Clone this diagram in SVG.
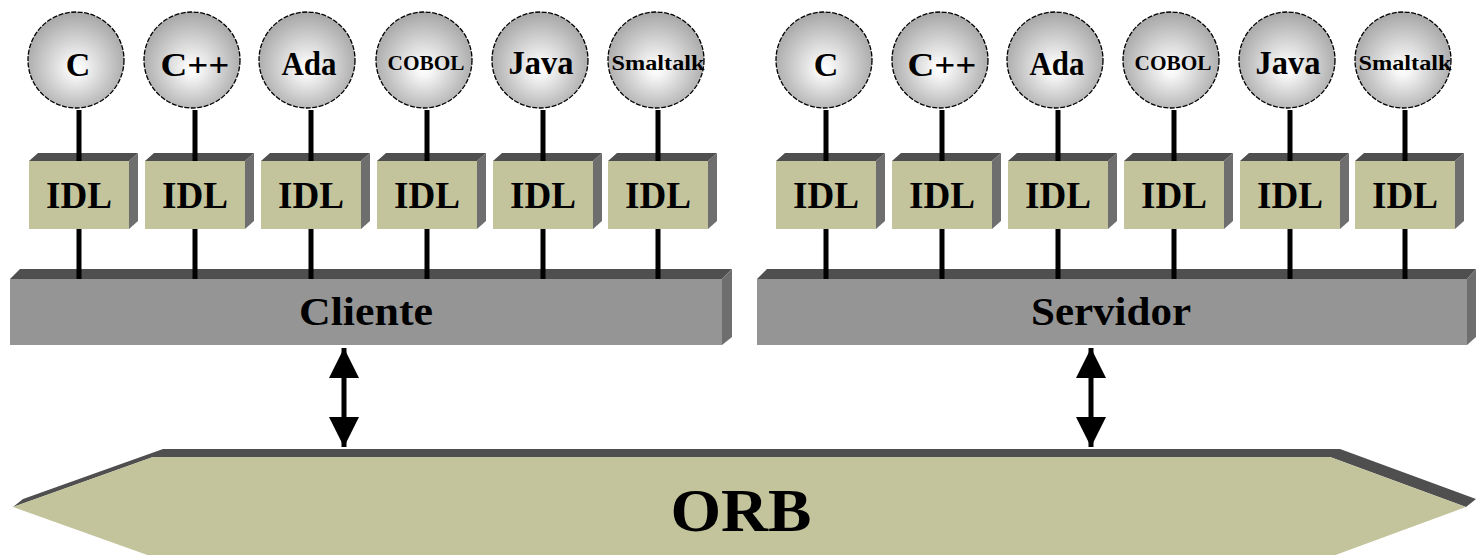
<svg xmlns="http://www.w3.org/2000/svg" width="1476" height="555" viewBox="0 0 1476 555">
  <defs>
    <radialGradient id="ball" cx="0.5" cy="0.55" r="0.55" fx="0.5" fy="0.6">
      <stop offset="0" stop-color="#ffffff"/>
      <stop offset="0.15" stop-color="#f6f6f6"/>
      <stop offset="1" stop-color="#a6a6a6"/>
    </radialGradient>
    <marker id="head" viewBox="0 0 30 30" refX="30" refY="15" markerWidth="30" markerHeight="30" markerUnits="userSpaceOnUse" orient="auto-start-reverse">
      <path d="M0,0 L30,15 L0,30 Z" fill="#000"/>
    </marker>
    <g id="idlBox">
      <polygon class="top" points="0,8 9,0 109,0 100,8"/>
      <polygon class="side" points="100,8 109,0 109,68 100,76"/>
      <rect class="face" x="0" y="8" width="100" height="68"/>
      <text class="idl" x="50" y="55" textLength="66" lengthAdjust="spacingAndGlyphs">IDL</text>
    </g>
  </defs>
  <style>
    .top { fill: #4f4f4f; }
    .side { fill: #6e6e6e; }
    .face { fill: #c3c39c; }
    .bar { fill: #959595; }
    .ball { fill: url(#ball); stroke: #000; stroke-width: 1.3; stroke-dasharray: 5 1.5; }
    text { font-family: "Liberation Serif", "Times New Roman", serif; font-weight: bold; fill: #000; text-anchor: middle; }
    .lang { font-size: 34px; }
    .small { font-size: 22px; }
    .idl { font-size: 37px; }
    .label { font-size: 40px; }
    .orb { font-size: 62px; }
    .link { stroke: #000; stroke-width: 5; fill: none; }
  </style>

  <rect width="1476" height="555" fill="#fff"/>

  <!-- ORB backbone -->
  <g id="orb">
    <polygon class="top" points="13,507 23,499 163,449 1340,449 1476,499 1466,507 1330,457 153,457"/>
    <polygon class="face" points="13,507 153,457 1330,457 1466,507 1330,557 153,557"/>
    <text class="orb" x="741" y="531" textLength="141" lengthAdjust="spacingAndGlyphs">ORB</text>
  </g>

  <!-- Client and server platforms -->
  <g id="cliente">
    <polygon class="top" points="10,279 20,269 732,269 722,279"/>
    <polygon class="side" points="722,279 732,269 732,337 722,345"/>
    <rect class="bar" x="10" y="279" width="712" height="66"/>
    <text class="label" x="366" y="325" textLength="134" lengthAdjust="spacingAndGlyphs">Cliente</text>
  </g>
  <g id="servidor">
    <polygon class="top" points="757,279 767,269 1476,269 1467,279"/>
    <polygon class="side" points="1467,279 1476,269 1476,337 1467,345"/>
    <rect class="bar" x="757" y="279" width="710" height="66"/>
    <text class="label" x="1111" y="325" textLength="160" lengthAdjust="spacingAndGlyphs">Servidor</text>
  </g>

  <!-- IDL stubs -->
  <g id="idl-c1"><use href="#idlBox" x="29" y="153"/></g>
  <g id="idl-c2"><use href="#idlBox" x="145" y="153"/></g>
  <g id="idl-c3"><use href="#idlBox" x="261" y="153"/></g>
  <g id="idl-c4"><use href="#idlBox" x="377" y="153"/></g>
  <g id="idl-c5"><use href="#idlBox" x="493" y="153"/></g>
  <g id="idl-c6"><use href="#idlBox" x="608" y="153"/></g>
  <g id="idl-s1"><use href="#idlBox" x="776" y="153"/></g>
  <g id="idl-s2"><use href="#idlBox" x="892" y="153"/></g>
  <g id="idl-s3"><use href="#idlBox" x="1008" y="153"/></g>
  <g id="idl-s4"><use href="#idlBox" x="1124" y="153"/></g>
  <g id="idl-s5"><use href="#idlBox" x="1240" y="153"/></g>
  <g id="idl-s6"><use href="#idlBox" x="1355" y="153"/></g>

  <!-- Language bindings -->
  <g id="lang-c1"><circle class="ball" cx="76" cy="60" r="48"/><text class="lang" x="78" y="76">C</text></g>
  <g id="lang-c2"><circle class="ball" cx="192" cy="60" r="48"/><text class="lang" x="195" y="76" textLength="69" lengthAdjust="spacingAndGlyphs">C++</text></g>
  <g id="lang-c3"><circle class="ball" cx="307" cy="60" r="48"/><text class="lang" x="309" y="75" textLength="55" lengthAdjust="spacingAndGlyphs">Ada</text></g>
  <g id="lang-c4"><circle class="ball" cx="424" cy="60" r="48"/><text class="small" x="426" y="70" textLength="77" lengthAdjust="spacingAndGlyphs">COBOL</text></g>
  <g id="lang-c5"><circle class="ball" cx="540" cy="60" r="48"/><text class="lang" x="541" y="74" textLength="65" lengthAdjust="spacingAndGlyphs">Java</text></g>
  <g id="lang-c6"><circle class="ball" cx="656" cy="60" r="48"/><text class="small" x="658" y="70" textLength="93" lengthAdjust="spacingAndGlyphs">Smaltalk</text></g>
  <g id="lang-s1"><circle class="ball" cx="824" cy="60" r="48"/><text class="lang" x="826" y="76">C</text></g>
  <g id="lang-s2"><circle class="ball" cx="940" cy="60" r="48"/><text class="lang" x="942" y="76" textLength="69" lengthAdjust="spacingAndGlyphs">C++</text></g>
  <g id="lang-s3"><circle class="ball" cx="1055" cy="60" r="48"/><text class="lang" x="1057" y="75" textLength="55" lengthAdjust="spacingAndGlyphs">Ada</text></g>
  <g id="lang-s4"><circle class="ball" cx="1171" cy="60" r="48"/><text class="small" x="1173" y="70" textLength="77" lengthAdjust="spacingAndGlyphs">COBOL</text></g>
  <g id="lang-s5"><circle class="ball" cx="1287" cy="60" r="48"/><text class="lang" x="1288" y="74" textLength="65" lengthAdjust="spacingAndGlyphs">Java</text></g>
  <g id="lang-s6"><circle class="ball" cx="1403" cy="60" r="48"/><text class="small" x="1405" y="70" textLength="93" lengthAdjust="spacingAndGlyphs">Smaltalk</text></g>

  <!-- Connectors -->
  <g id="connectors">
    <path class="link" d="M79,110 V161 M79,229 V279 M195,110 V161 M195,229 V279 M311,110 V161 M311,229 V279 M427,110 V161 M427,229 V279 M543,110 V161 M543,229 V279 M658,110 V161 M658,229 V279"/>
    <path class="link" d="M826,110 V161 M826,229 V279 M942,110 V161 M942,229 V279 M1058,110 V161 M1058,229 V279 M1174,110 V161 M1174,229 V279 M1290,110 V161 M1290,229 V279 M1405,110 V161 M1405,229 V279"/>
    <line class="link" x1="344" y1="348" x2="344" y2="447" marker-start="url(#head)" marker-end="url(#head)"/>
    <line class="link" x1="1091" y1="348" x2="1091" y2="447" marker-start="url(#head)" marker-end="url(#head)"/>
  </g>
</svg>
